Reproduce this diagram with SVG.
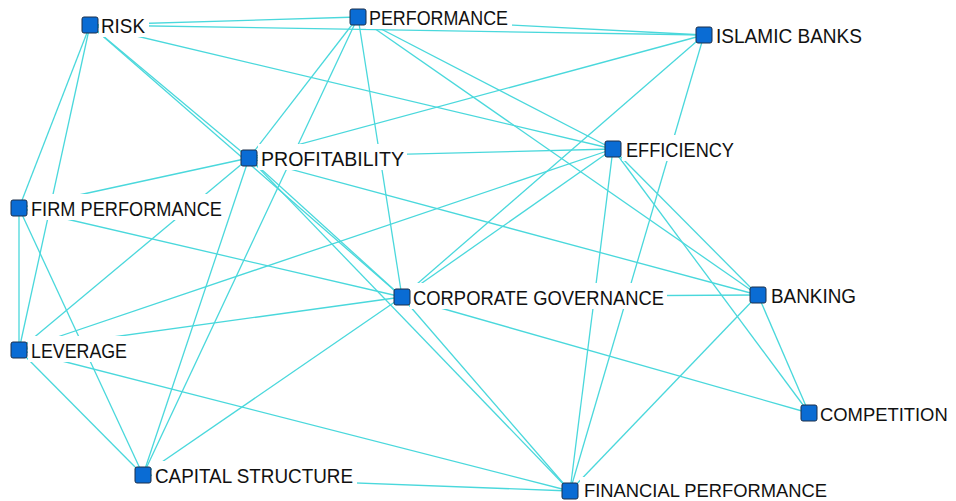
<svg xmlns="http://www.w3.org/2000/svg" width="956" height="501" viewBox="0 0 956 501">
<style>
.e line{stroke:#4ad8dc;stroke-width:1.3;fill:none}
.bg{fill:#ffffff}
.sq{fill:#0a6cd4;stroke:#1b2f4a;stroke-width:1}
.t{font-family:"Liberation Sans",Arial,sans-serif;font-size:20px;fill:#111111}
</style>
<rect width="956" height="501" fill="#ffffff"/>
<g id="edges" class="e">
<line x1="90" y1="25" x2="358" y2="17"/>
<line x1="90" y1="25" x2="704" y2="35"/>
<line x1="90" y1="25" x2="613" y2="149"/>
<line x1="90" y1="25" x2="249" y2="158"/>
<line x1="90" y1="25" x2="402" y2="297"/>
<line x1="90" y1="25" x2="19" y2="208"/>
<line x1="90" y1="25" x2="19" y2="350"/>
<line x1="358" y1="17" x2="704" y2="35"/>
<line x1="358" y1="17" x2="249" y2="158"/>
<line x1="358" y1="17" x2="143" y2="475"/>
<line x1="358" y1="17" x2="402" y2="297"/>
<line x1="358" y1="17" x2="613" y2="149"/>
<line x1="358" y1="17" x2="758" y2="295"/>
<line x1="249" y1="158" x2="704" y2="35"/>
<line x1="249" y1="158" x2="613" y2="149"/>
<line x1="249" y1="158" x2="19" y2="208"/>
<line x1="249" y1="158" x2="19" y2="350"/>
<line x1="249" y1="158" x2="143" y2="475"/>
<line x1="249" y1="158" x2="402" y2="297"/>
<line x1="249" y1="158" x2="570" y2="491"/>
<line x1="249" y1="158" x2="758" y2="295"/>
<line x1="19" y1="208" x2="19" y2="350"/>
<line x1="19" y1="208" x2="143" y2="475"/>
<line x1="19" y1="208" x2="402" y2="297"/>
<line x1="19" y1="350" x2="143" y2="475"/>
<line x1="19" y1="350" x2="613" y2="149"/>
<line x1="19" y1="350" x2="402" y2="297"/>
<line x1="19" y1="350" x2="570" y2="491"/>
<line x1="143" y1="475" x2="402" y2="297"/>
<line x1="143" y1="475" x2="570" y2="491"/>
<line x1="402" y1="297" x2="704" y2="35"/>
<line x1="402" y1="297" x2="613" y2="149"/>
<line x1="402" y1="297" x2="758" y2="295"/>
<line x1="402" y1="297" x2="809" y2="413"/>
<line x1="402" y1="297" x2="570" y2="491"/>
<line x1="613" y1="149" x2="570" y2="491"/>
<line x1="613" y1="149" x2="758" y2="295"/>
<line x1="613" y1="149" x2="809" y2="413"/>
<line x1="704" y1="35" x2="570" y2="491"/>
<line x1="758" y1="295" x2="570" y2="491"/>
<line x1="758" y1="295" x2="809" y2="413"/>
</g>
<g id="n-risk"><rect class="bg" x="99" y="11" width="50" height="26"/><rect class="sq" x="82" y="17" width="16" height="16" rx="2"/><text class="t" x="101" y="33" textLength="44" lengthAdjust="spacingAndGlyphs">RISK</text></g>
<g id="n-performance"><rect class="bg" x="366" y="3" width="146" height="26"/><rect class="sq" x="350" y="9" width="16" height="16" rx="2"/><text class="t" x="369" y="25" textLength="139" lengthAdjust="spacingAndGlyphs">PERFORMANCE</text></g>
<g id="n-islamic-banks"><rect class="bg" x="713" y="21" width="153" height="26"/><rect class="sq" x="696" y="27" width="16" height="16" rx="2"/><text class="t" x="716" y="43" textLength="146" lengthAdjust="spacingAndGlyphs">ISLAMIC BANKS</text></g>
<g id="n-efficiency"><rect class="bg" x="622" y="135" width="115" height="26"/><rect class="sq" x="605" y="141" width="16" height="16" rx="2"/><text class="t" x="626" y="157" textLength="108" lengthAdjust="spacingAndGlyphs">EFFICIENCY</text></g>
<g id="n-profitability"><rect class="bg" x="258" y="144" width="149" height="26"/><rect class="sq" x="241" y="150" width="16" height="16" rx="2"/><text class="t" x="261" y="166" textLength="143" lengthAdjust="spacingAndGlyphs">PROFITABILITY</text></g>
<g id="n-firm-performance"><rect class="bg" x="28" y="194" width="197" height="26"/><rect class="sq" x="11" y="200" width="16" height="16" rx="2"/><text class="t" x="31" y="216" textLength="191" lengthAdjust="spacingAndGlyphs">FIRM PERFORMANCE</text></g>
<g id="n-leverage"><rect class="bg" x="28" y="336" width="102" height="26"/><rect class="sq" x="11" y="342" width="16" height="16" rx="2"/><text class="t" x="31" y="358" textLength="96" lengthAdjust="spacingAndGlyphs">LEVERAGE</text></g>
<g id="n-capital-structure"><rect class="bg" x="152" y="461" width="205" height="26"/><rect class="sq" x="135" y="467" width="16" height="16" rx="2"/><text class="t" x="155" y="483" textLength="198" lengthAdjust="spacingAndGlyphs">CAPITAL STRUCTURE</text></g>
<g id="n-corporate-governance"><rect class="bg" x="410" y="283" width="257" height="26"/><rect class="sq" x="394" y="289" width="16" height="16" rx="2"/><text class="t" x="413" y="305" textLength="251" lengthAdjust="spacingAndGlyphs">CORPORATE GOVERNANCE</text></g>
<g id="n-banking"><rect class="bg" x="767" y="281" width="92" height="26"/><rect class="sq" x="750" y="287" width="16" height="16" rx="2"/><text class="t" x="771" y="303" textLength="85" lengthAdjust="spacingAndGlyphs">BANKING</text></g>
<g id="n-competition"><rect class="bg" x="818" y="399" width="132" height="26"/><rect class="sq" x="801" y="405" width="16" height="16" rx="2"/><text class="t" x="820" y="421" style="font-size:18.4px">COMPETITION</text></g>
<g id="n-financial-performance"><rect class="bg" x="580" y="477" width="250" height="24"/><rect class="sq" x="562" y="483" width="16" height="16" rx="2"/><text class="t" x="584" y="497" style="font-size:19px" textLength="243" lengthAdjust="spacingAndGlyphs">FINANCIAL PERFORMANCE</text></g>
</svg>
